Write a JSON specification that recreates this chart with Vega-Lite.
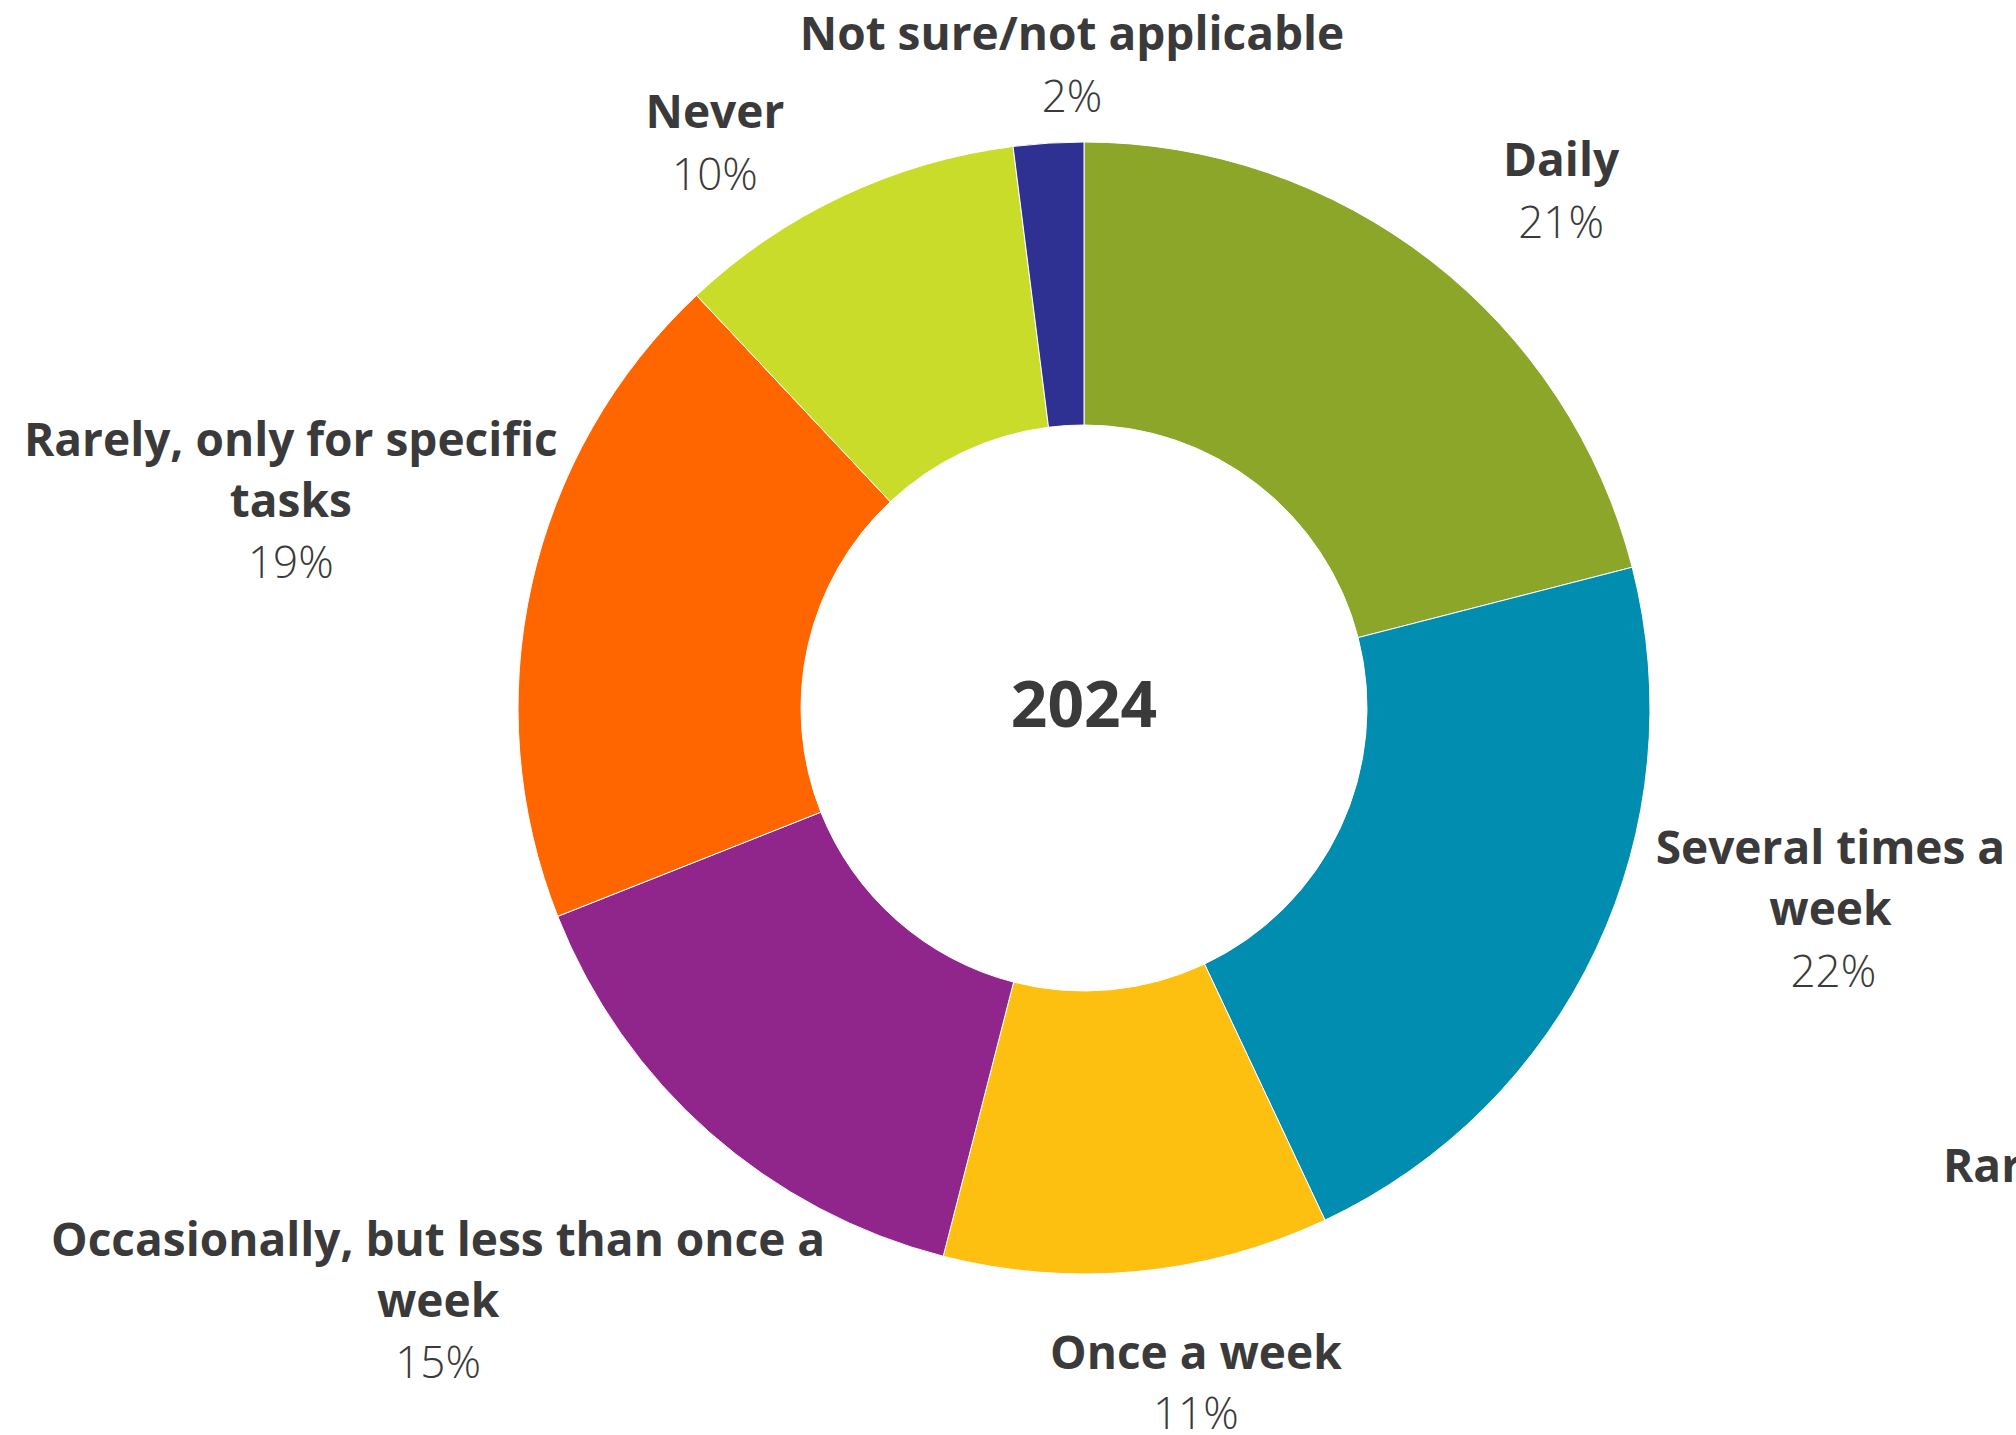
{
  "$schema": "https://vega.github.io/schema/vega-lite/v6.json",
  "width": 1864,
  "height": 1416,
  "autosize": {"type": "none"},
  "padding": {"left": 152, "top": 0, "right": 0, "bottom": 19},
  "background": "white",
  "config": {"view": {"stroke": null}},
  "data": {
    "values": [
      {"order": 1, "category": "Daily", "label": "Daily", "share": 0.21},
      {"order": 2, "category": "Several times a week", "label": "Several times a\nweek", "share": 0.22},
      {"order": 3, "category": "Once a week", "label": "Once a week", "share": 0.11},
      {"order": 4, "category": "Occasionally, but less than once a week", "label": "Occasionally, but less than once a\nweek", "share": 0.15},
      {"order": 5, "category": "Rarely, only for specific tasks", "label": "Rarely, only for specific\ntasks", "share": 0.19},
      {"order": 6, "category": "Never", "label": "Never", "share": 0.10},
      {"order": 7, "category": "Not sure/not applicable", "label": "Not sure/not applicable", "share": 0.02}
    ]
  },
  "layer": [
    {
      "mark": {"type": "arc", "radius": 566, "radius2": 283, "stroke": "white", "strokeWidth": 1},
      "encoding": {
        "theta": {"field": "share", "type": "quantitative", "stack": true},
        "order": {"field": "order", "type": "quantitative"},
        "color": {
          "field": "category", "type": "nominal", "legend": null,
          "scale": {
            "domain": ["Daily", "Several times a week", "Once a week", "Occasionally, but less than once a week", "Rarely, only for specific tasks", "Never", "Not sure/not applicable"],
            "range": ["#8BA629", "#008DB0", "#FDC010", "#90268C", "#FF6600", "#CADC2A", "#2E3192"]
          }
        }
      }
    },
    {
      "mark": {
        "type": "text", "radius": 700, "font": "Open Sans", "fontWeight": "bold", "fontSize": 46,
        "color": "#3a3a3a", "align": "center", "baseline": "alphabetic", "lineBreak": "\n", "lineHeight": 61,
        "dx": {"expr": "datum.category == 'Daily' ? 48 : datum.category == 'Several times a week' ? 113 : datum.category == 'Once a week' ? 46 : datum.category == 'Occasionally, but less than once a week' ? -183 : datum.category == 'Rarely, only for specific tasks' ? -110 : datum.category == 'Never' ? -71 : 32"},
        "dy": {"expr": "datum.category == 'Daily' ? 21 : datum.category == 'Several times a week' ? -142 : datum.category == 'Once a week' ? -36 : datum.category == 'Occasionally, but less than once a week' ? 23 : datum.category == 'Rarely, only for specific tasks' ? -99 : datum.category == 'Never' ? 53 : 41"}
      },
      "encoding": {
        "theta": {"field": "share", "type": "quantitative", "stack": true},
        "order": {"field": "order", "type": "quantitative"},
        "text": {"field": "label", "type": "nominal"}
      }
    },
    {
      "mark": {
        "type": "text", "radius": 700, "font": "Open Sans", "fontWeight": 300, "fontSize": 44,
        "color": "#3a3a3a", "align": "center", "baseline": "alphabetic",
        "dx": {"expr": "datum.category == 'Daily' ? 48 : datum.category == 'Several times a week' ? 116 : datum.category == 'Once a week' ? 46 : datum.category == 'Occasionally, but less than once a week' ? -183 : datum.category == 'Rarely, only for specific tasks' ? -110 : datum.category == 'Never' ? -71 : 32"},
        "dy": {"expr": "datum.category == 'Daily' ? 83 : datum.category == 'Several times a week' ? -19 : datum.category == 'Once a week' ? 24 : datum.category == 'Occasionally, but less than once a week' ? 145 : datum.category == 'Rarely, only for specific tasks' ? 23 : datum.category == 'Never' ? 115 : 103"}
      },
      "encoding": {
        "theta": {"field": "share", "type": "quantitative", "stack": true},
        "order": {"field": "order", "type": "quantitative"},
        "text": {"field": "share", "type": "quantitative", "format": ".0%"}
      }
    },
    {
      "data": {"values": [{"year": "2024"}]},
      "mark": {
        "type": "text", "font": "Open Sans", "fontWeight": "bold", "fontSize": 64, "color": "#3a3a3a",
        "align": "center", "baseline": "middle",
        "x": {"expr": "width / 2"}, "y": {"expr": "height / 2"}
      },
      "encoding": {"text": {"field": "year", "type": "nominal"}}
    },
    {
      "data": {"values": [{"label": "Rarely, only for specific"}]},
      "mark": {
        "type": "text", "font": "Open Sans", "fontWeight": "bold", "fontSize": 46, "color": "#3a3a3a",
        "align": "left", "baseline": "alphabetic",
        "x": {"expr": "width / 2 + 859"}, "y": {"expr": "height / 2 + 474"}
      },
      "encoding": {"text": {"field": "label", "type": "nominal"}}
    }
  ]
}
